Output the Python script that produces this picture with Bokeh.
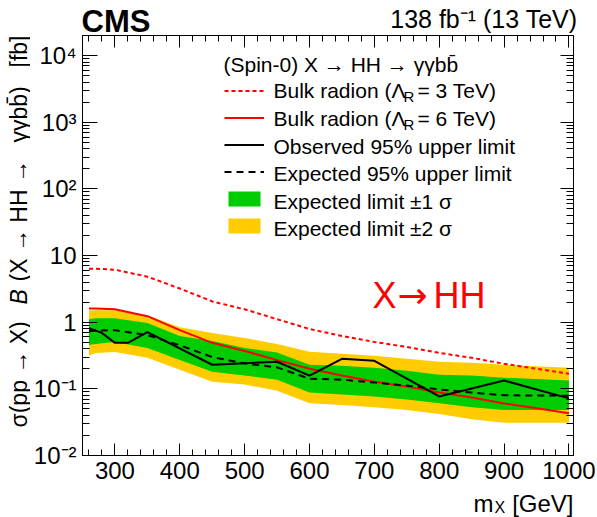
import numpy as np
from bokeh.plotting import figure
from bokeh.layouts import column, row
from bokeh.models import (Range1d, LinearAxis, LogAxis, LogTicker, SingleIntervalTicker,
                          CustomJSTickFormatter, Label, Legend, LegendItem)
from bokeh.embed import file_html
from bokeh.resources import INLINE

# ---------------- data ----------------
mass = [260, 270, 300, 350, 400, 450, 500, 550, 600, 650, 700, 750, 800, 850, 900, 1000]
exp_lim = [0.73, 0.75, 0.76, 0.64, 0.45, 0.30, 0.24, 0.21, 0.142, 0.137, 0.124, 0.112, 0.098, 0.088, 0.080, 0.079]
band1_lo = [0.455, 0.471, 0.505, 0.411, 0.272, 0.181, 0.158, 0.137, 0.088, 0.082, 0.077, 0.069, 0.061, 0.053, 0.048, 0.048]
band1_hi = [1.11, 1.15, 1.15, 0.97, 0.62, 0.52, 0.41, 0.35, 0.23, 0.222, 0.207, 0.187, 0.163, 0.158, 0.147, 0.133]
band2_lo = [0.313, 0.346, 0.358, 0.292, 0.194, 0.128, 0.116, 0.094, 0.061, 0.057, 0.053, 0.048, 0.042, 0.035, 0.031, 0.031]
band2_hi = [1.51, 1.51, 1.51, 1.27, 0.84, 0.69, 0.58, 0.47, 0.36, 0.335, 0.313, 0.282, 0.255, 0.246, 0.230, 0.207]

obs_mass = [260, 280, 300, 320, 350, 450, 550, 600, 650, 700, 800, 900, 1000]
obs_lim = [0.81, 0.69, 0.49, 0.49, 0.71, 0.23, 0.255, 0.158, 0.282, 0.263, 0.077, 0.133, 0.072]

th_mass = [260, 270, 300, 350, 400, 450, 500, 550, 600, 650, 700, 750, 800, 850, 900, 950, 1000]
radion_3tev = [6.35, 6.35, 6.13, 4.82, 3.20, 2.05, 1.56, 1.11, 0.79, 0.62, 0.505, 0.425, 0.346, 0.292, 0.238, 0.200, 0.169]
radion_6tev = [1.61, 1.61, 1.56, 1.23, 0.76, 0.49, 0.37, 0.27, 0.20, 0.158, 0.128, 0.108, 0.088, 0.074, 0.0605, 0.051, 0.043]

x_range = (250, 1007)
y_range = (0.01, 2.0e4)

FONT = "Liberation Sans"
GREEN = "#00cc00"
YELLOW = "#ffcc00"
RED = "#ff0000"

# canvas geometry of the pieces
TOP_H = 33
LEFT_W = 30
MAIN_W = 597 - LEFT_W
MAIN_H = 456
BOT_H = 517 - TOP_H - MAIN_H
FB = 455  # frame bottom (canvas px)
FL = 81   # frame left (canvas px)


def strip(w, h):
    f = figure(width=w, height=h, output_backend="svg", toolbar_location=None,
               x_range=Range1d(0, 1), y_range=Range1d(0, 1),
               x_axis_location=None, y_axis_location=None,
               min_border=0, min_border_left=0, min_border_right=0,
               min_border_top=0, min_border_bottom=0)
    f.outline_line_color = None
    f.xgrid.visible = False
    f.ygrid.visible = False
    f.background_fill_color = "white"
    f.border_fill_color = "white"
    return f


def lab(fig, text, x, y, size, **kw):
    # y is the vertical centre of the capitals (text_baseline="middle")
    kw.setdefault("text_font", FONT)
    kw.setdefault("text_color", "black")
    kw.setdefault("text_baseline", "middle")
    fig.add_layout(Label(text=text, x=x, y=y, x_units="screen", y_units="screen",
                         text_font_size=size, **kw))


# ---------------- main plot ----------------
p = figure(width=MAIN_W, height=MAIN_H, output_backend="svg", toolbar_location=None,
           y_axis_type="log", x_range=Range1d(*x_range), y_range=Range1d(*y_range),
           min_border_left=81 - LEFT_W, min_border_right=24, min_border_top=2, min_border_bottom=34)
p.xgrid.visible = False
p.ygrid.visible = False
p.outline_line_color = "black"
p.outline_line_width = 1
p.background_fill_color = "white"
p.border_fill_color = "white"

r_y2 = p.varea(x=mass, y1=band2_lo, y2=band2_hi, fill_color=YELLOW)
r_y1 = p.varea(x=mass, y1=band1_lo, y2=band1_hi, fill_color=GREEN)
r_r3 = p.line(th_mass, radion_3tev, line_color=RED, line_width=2, line_dash="4 3")
r_r6 = p.line(th_mass, radion_6tev, line_color=RED, line_width=2)
r_exp = p.line(mass, exp_lim, line_color="black", line_width=2, line_dash="7 5")
r_obs = p.line(obs_mass, obs_lim, line_color="black", line_width=2)

xa = p.xaxis[0]
xa.ticker = SingleIntervalTicker(interval=100, num_minor_ticks=5)
xa.major_label_text_font = FONT
xa.major_label_text_font_size = "24px"
xa.major_label_text_color = "black"
xa.major_label_standoff = 6
xa.major_tick_in = 12
xa.major_tick_out = 0
xa.minor_tick_in = 6
xa.minor_tick_out = 0
xa.axis_line_color = "black"

ya = p.yaxis[0]
ya.ticker = LogTicker(num_minor_ticks=10)
ya.formatter = CustomJSTickFormatter(code="""
const e = Math.round(Math.log10(tick));
const sup = {'-2':'\\u207B\\u00B2', '-1':'\\u207B\\u00B9', '2':'\\u00B2', '3':'\\u00B3', '4':'\\u2074', '5':'\\u2075'};
if (e == 0) { return '1'; }
if (e == 1) { return '10'; }
return '10' + sup[String(e)];
""")
ya.major_label_text_font = FONT
ya.major_label_text_font_size = "24px"
ya.major_label_text_color = "black"
ya.major_label_standoff = 6
ya.major_tick_in = 15
ya.major_tick_out = 0
ya.minor_tick_in = 7
ya.minor_tick_out = 0
ya.axis_line_color = "black"

top = LinearAxis(ticker=SingleIntervalTicker(interval=100, num_minor_ticks=5),
                 formatter=CustomJSTickFormatter(code="return '';"),
                 major_label_standoff=0, major_label_text_font_size="1px",
                 major_tick_in=12, major_tick_out=0, minor_tick_in=6, minor_tick_out=0,
                 axis_line_color="black")
p.add_layout(top, "above")
right = LogAxis(ticker=LogTicker(num_minor_ticks=10),
                formatter=CustomJSTickFormatter(code="return '';"),
                major_label_standoff=0, major_label_text_font_size="1px",
                major_tick_in=13, major_tick_out=0, minor_tick_in=7, minor_tick_out=0,
                axis_line_color="black")
p.add_layout(right, "right")

# legend swatches
items = [LegendItem(label=" ", renderers=[r]) for r in (r_r3, r_r6, r_obs, r_exp, r_y1, r_y2)]
leg = Legend(items=items, location=(142, 220), orientation="vertical",
             glyph_width=40, glyph_height=19, label_height=19, label_width=1,
             label_text_font_size="8px", spacing=8, padding=0, margin=0,
             border_line_color=None, background_fill_alpha=0, label_standoff=0)
p.add_layout(leg, "center")

LS = "21px"
lab(p, "(Spin-0) X \u2192 HH \u2192 \u03b3\u03b3bb\u0304", 222 - FL, FB - 64, LS)
rows = [90, 118, 146, 173, 201, 228]
for i, t in enumerate(["3", "6"]):
    yc = FB - rows[i]
    lab(p, "Bulk radion (\u039b", 272 - FL, yc, LS)
    lab(p, "R", 402 - FL, yc - 6, "15px")
    lab(p, "= " + t + " TeV)", 416 - FL, yc, LS)
lab(p, "Observed 95% upper limit", 272 - FL, FB - rows[2], LS)
lab(p, "Expected 95% upper limit", 272 - FL, FB - rows[3], LS)
lab(p, "Expected limit \u00b11 \u03c3", 272 - FL, FB - rows[4], LS)
lab(p, "Expected limit \u00b12 \u03c3", 272 - FL, FB - rows[5], LS)

# X -> HH
lab(p, "X", 371 - FL, FB - 295, "36px", text_color=RED)
lab(p, "\u2192", 396 - FL, FB - 295, "36px", text_color=RED, text_font="DejaVu Sans")
lab(p, "HH", 432 - FL, FB - 295, "36px", text_color=RED)

# ---------------- strips with outer texts ----------------
topf = strip(597, TOP_H)
lab(topf, "CMS", 81, TOP_H - 21, "31px", text_font_style="bold")
lab(topf, "138 fb\u207b\u00b9 (13 TeV)", 577, TOP_H - 18, "25px", text_align="right")

# left strip: its frame is aligned with the main frame (canvas y 35..455)
leftf = strip(LEFT_W, MAIN_H)
YC = 18  # centre column of the rotated title
YS = "23px"
lab(leftf, "\u03c3(pp \u2192 X)", YC, FB - 427, YS, angle=np.pi / 2)
lab(leftf, "B", YC, FB - 304, YS, angle=np.pi / 2, text_font_style="italic")
lab(leftf, "(X \u2192 HH \u2192", YC, FB - 281, YS, angle=np.pi / 2)
lab(leftf, "\u03b3\u03b3bb\u0304)", YC, FB - 142, YS, angle=np.pi / 2)
lab(leftf, "[fb]", YC, FB - 35, YS, angle=np.pi / 2, text_align="right")

botf = strip(597, BOT_H)
lab(botf, "m", 473, 14.5, "24px")
lab(botf, "X", 494, 10, "16px")
lab(botf, "[GeV]", 573, 14.5, "24px", text_align="right")

layout = column(topf, row(leftf, p, spacing=0), botf, spacing=0)

open("out.html", "w", encoding="utf-8").write(file_html(layout, INLINE))
